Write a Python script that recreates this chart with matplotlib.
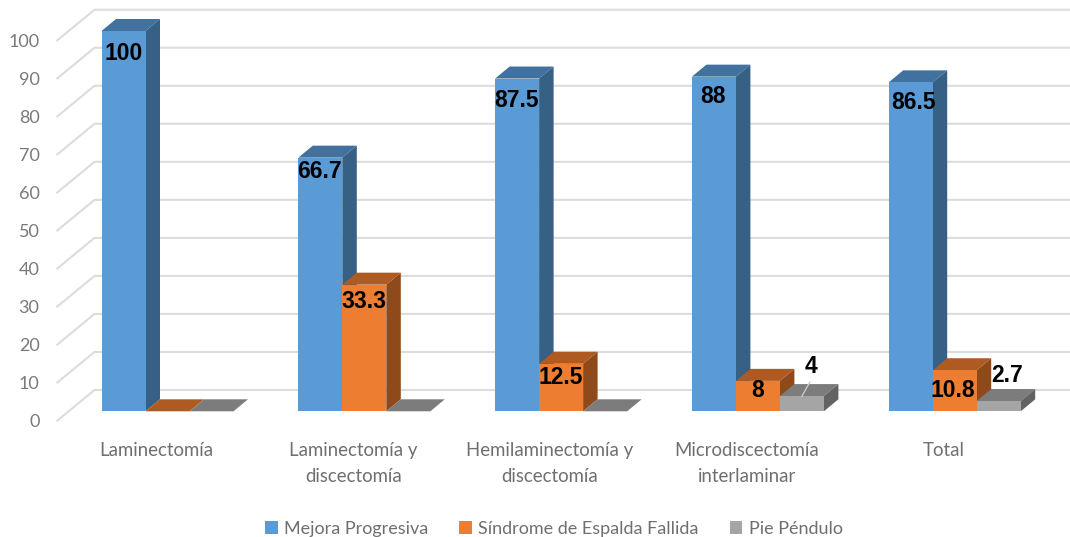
import matplotlib
matplotlib.use('Agg')
import matplotlib.pyplot as plt
from matplotlib.patches import Polygon

plt.rcParams['font.family'] = ['Lato', 'DejaVu Sans']

categories = ['Laminectomía', 'Laminectomía y\ndiscectomía', 'Hemilaminectomía y\ndiscectomía',
              'Microdiscectomía\ninterlaminar', 'Total']
mejora = [100, 66.7, 87.5, 88, 86.5]
sindrome = [0, 33.3, 12.5, 8, 10.8]
pie = [0, 0, 0, 4, 2.7]
yticks = [0, 10, 20, 30, 40, 50, 60, 70, 80, 90, 100]

W, H = 1070, 537
PX_X = 1 / 196.8    # one pixel in category units
PX_Y = 1 / 3.803    # one pixel in value units
BAR_W = 44 * PX_X
DEPTH_X = 14.5 * PX_X
DEPTH_Y = 12 * PX_Y
WALL_Y = 21.3 * PX_Y
FRONT_Y = -10 * PX_Y

fig = plt.figure(figsize=(W / 100, H / 100), dpi=100)
ax = fig.add_axes([0, 0, 1, 1])
ax.set_xlim(-167.5 * PX_X, (W - 167.5) * PX_X)
ax.set_ylim(-(H - 411.3) * PX_Y, 411.3 * PX_Y)
ax.axis('off')

# back wall grid and the slanted bit on the left
grid_left = -73 * PX_X
front_left = -111 * PX_X
for t in yticks:
    ax.plot([front_left, grid_left, (W - 167.5) * PX_X], [t + FRONT_Y, t + WALL_Y, t + WALL_Y],
            color='#dcdcdc', lw=1.5, zorder=1, solid_capstyle='butt')
    ax.text(front_left - 17 * PX_X, t + FRONT_Y - 1 * PX_Y, str(t), ha='right', va='center',
            fontsize=13, color='#7a7a7a')

series = [
    ('Mejora Progresiva', mejora, '#5b9bd5', '#41719f', '#376085'),
    ('Síndrome de Espalda Fallida', sindrome, '#ed7d31', '#ae5a21', '#8f4a1b'),
    ('Pie Péndulo', pie, '#a5a5a5', '#7c7c7c', '#636363'),
]

handles = []
z = 3
for i in range(len(categories)):
    for s, (name, vals, front, top, side) in enumerate(series):
        left = i + (s - 1.5) * BAR_W
        v = vals[i]
        ax.add_patch(Polygon([(left, v), (left + BAR_W, v), (left + BAR_W + DEPTH_X, v + DEPTH_Y),
                              (left + DEPTH_X, v + DEPTH_Y)], fc=top, ec='none', zorder=z))
        ax.add_patch(Polygon([(left + BAR_W, 0), (left + BAR_W + DEPTH_X, DEPTH_Y),
                              (left + BAR_W + DEPTH_X, v + DEPTH_Y), (left + BAR_W, v)],
                             fc=side, ec='none', zorder=z))
        b = ax.bar(left, v, BAR_W, align='edge', color=front, zorder=z + 0.5,
                   label=name if i == 0 else None)
        if i == 0:
            handles.append(b)
        z += 1

# data labels: pixel shifts per bar
label_dx = [[0, -1, -1, -1, 3], [0, 0, 0, 0, -2], [0, 0, 0, 9, 8]]
label_dy = [[-22, -14, -22, -20, -20], [0, -17, -14, -10, -20], [0, 0, 0, 30, 26]]
for s, (name, vals, front, top, side) in enumerate(series):
    for i, v in enumerate(vals):
        if v == 0:
            continue
        x = i + (s - 1) * BAR_W + label_dx[s][i] * PX_X
        y = v + label_dy[s][i] * PX_Y
        ax.text(x, y, str(v), ha='center', va='center', fontsize=16.5, fontweight='bold',
                family=['Liberation Sans'], color='black', zorder=100)

# leader line for the small "4"
ax.plot([3 + BAR_W, 3 + BAR_W + 8 * PX_X], [pie[3], pie[3] + 14 * PX_Y],
        color='#c8c8c8', lw=1, zorder=99)

for i, c in enumerate(categories):
    lines = c.split('\n')
    for n, line in enumerate(lines):
        ax.text(i - 11 * PX_X, -(39.2 + 26 * n) * PX_Y, line, ha='center', va='center',
                fontsize=13.4, color='#6f6f6f')

leg = fig.legend(handles=handles, loc='center', bbox_to_anchor=(554 / W, 1 - 529 / H), ncol=3,
                 frameon=False, fontsize=13, labelcolor='#6f6f6f', handlelength=0.7,
                 handleheight=0.7, handletextpad=0.35, columnspacing=1.72)

fig.savefig('out.png', dpi=100)
